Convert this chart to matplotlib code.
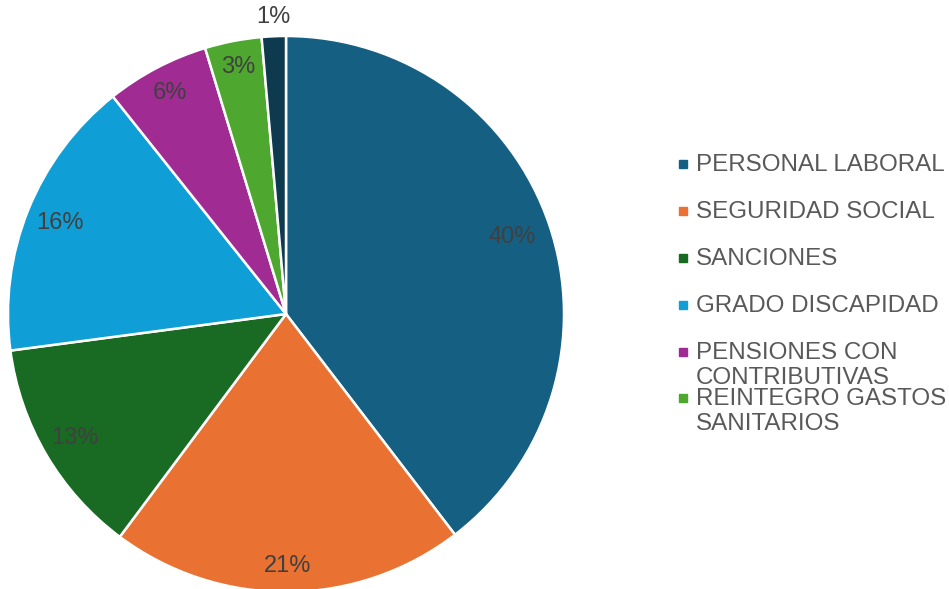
import numpy as np
import matplotlib.pyplot as plt
from matplotlib.patches import Rectangle

plt.rcParams['font.family'] = ['Liberation Sans', 'DejaVu Sans']

# Datos del grafico
categorias = ['PERSONAL LABORAL', 'SEGURIDAD SOCIAL', 'SANCIONES', 'GRADO DISCAPIDAD',
              'PENSIONES CON\nCONTRIBUTIVAS', 'REINTEGRO GASTOS\nSANITARIOS', 'OTROS']
valores = [39.6, 20.6, 12.7, 16.4, 6.0, 3.3, 1.4]
colores = ['#156082', '#E97132', '#196B24', '#0F9ED5', '#A02B93', '#4EA72E', '#0D3A4E']
# distancia de cada etiqueta al centro (relativa al radio)
dist_etiquetas = [0.86, 0.905, 0.88, 0.875, 0.9, 0.905, 1.07]

fig = plt.figure(figsize=(9.49, 5.89), dpi=100)
ax = fig.add_axes([8 / 949, (589 - 592) / 589, 556 / 949, 556 / 589])

wedges, textos, pcts = ax.pie(valores, colors=colores, startangle=90, counterclock=False,
                              autopct='%.0f%%', pctdistance=0.88, radius=1,
                              wedgeprops=dict(edgecolor='white', linewidth=1.8),
                              textprops=dict(color='#404040', fontsize=17))

# reubicar etiquetas de porcentaje
for w, t, d in zip(wedges, pcts, dist_etiquetas):
    ang = np.deg2rad((w.theta1 + w.theta2) / 2)
    t.set_position((d * np.cos(ang), d * np.sin(ang)))
    t.set_ha('center')
    t.set_va('center')

ax.set_xlim(-1, 1)
ax.set_ylim(-1, 1)
ax.set_aspect('equal')
ax.axis('off')

# Leyenda (solo se muestran las primeras seis entradas)
y_pos = [164, 211, 258, 305, 352, 398]
for cat, col, y in zip(categorias[:6], colores[:6], y_pos):
    fig.patches.append(Rectangle((679 / 949, 1 - (y + 4) / 589), 8 / 949, 8 / 589,
                                 transform=fig.transFigure, color=col))
    fig.text(696 / 949, 1 - (y - 10) / 589, cat, ha='left', va='top', color='#595959',
             fontsize=17.4, linespacing=1.18)

plt.savefig('out.png', dpi=100)
